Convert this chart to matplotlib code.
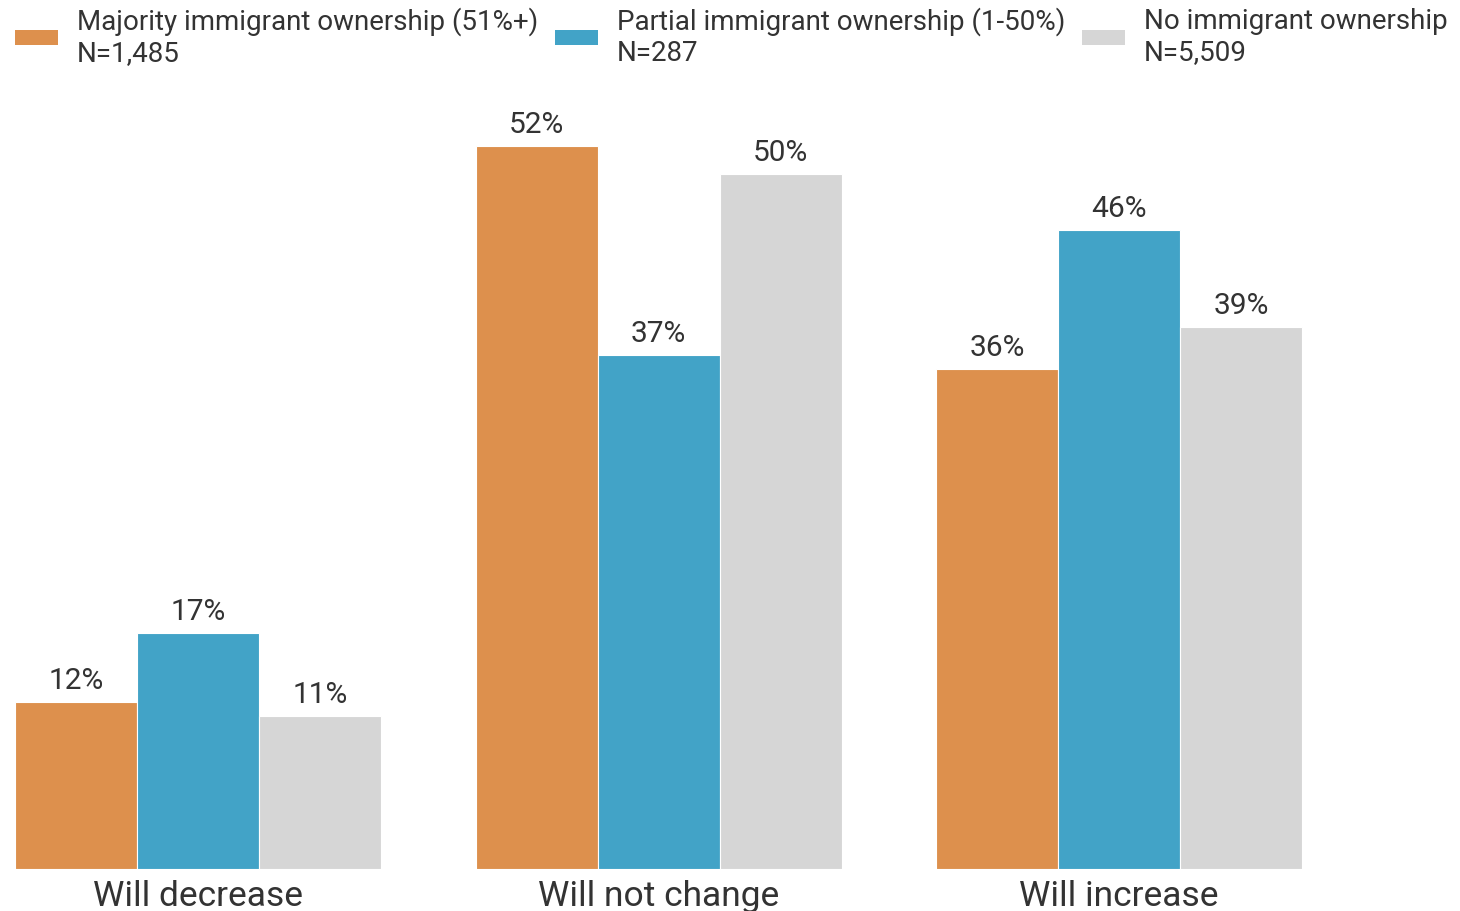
import matplotlib
matplotlib.use("Agg")
import matplotlib.pyplot as plt
import numpy as np
from matplotlib.patches import Patch

plt.rcParams['font.family'] = ['Roboto', 'DejaVu Sans']

categories = ["Will decrease", "Will not change", "Will increase"]
series_names = ["Majority immigrant ownership (51%+)\nN=1,485",
                "Partial immigrant ownership (1-50%)\nN=287",
                "No immigrant ownership\nN=5,509"]
majority = [12, 52, 36]
partial = [17, 37, 46]
none_own = [11, 50, 39]
series = [majority, partial, none_own]
colors = ["#DD904D", "#42A3C7", "#D6D6D6"]
text_color = "#333333"

W, H = 1460, 911
fig = plt.figure(figsize=(W / 100, H / 100), dpi=100)
base = (911 - 869) / 911
ax = fig.add_axes([0, base, 1, 1 - base])

x = np.arange(len(categories))
bw = 122 / 460
for i, (vals, c) in enumerate(zip(series, colors)):
    pos = x + (i - 1) * bw
    bars = ax.bar(pos, vals, width=bw, color=c, edgecolor="white", linewidth=0.8)
    for b, v in zip(bars, vals):
        ax.annotate(f"{v}%", (b.get_x() + b.get_width() / 2, v),
                    xytext=(0, 5), textcoords="offset points",
                    ha="center", va="bottom", fontsize=21.5, color=text_color)

ax.set_xlim(-0.431, 2.741)
ax.set_ylim(0, 869 / 13.9)
ax.set_axis_off()

for xi, cat in zip(x, categories):
    ax.annotate(cat, (xi, 0), xytext=(0, -8), textcoords="offset points",
                ha="center", va="top", fontsize=25.5, color=text_color,
                annotation_clip=False)

handles = [Patch(facecolor=c, edgecolor="none") for c in colors]
fs = 20
leg = fig.legend(handles, series_names, loc="upper left",
                 bbox_to_anchor=(15 / W, 1.0 - 7 / H),
                 ncol=3, frameon=False, fontsize=fs, handlelength=1.55, handleheight=0.47,
                 handletextpad=0.68, columnspacing=0.6, borderpad=0.0, borderaxespad=0.0,
                 labelcolor=text_color)

fig.savefig("out.png", dpi=100)
